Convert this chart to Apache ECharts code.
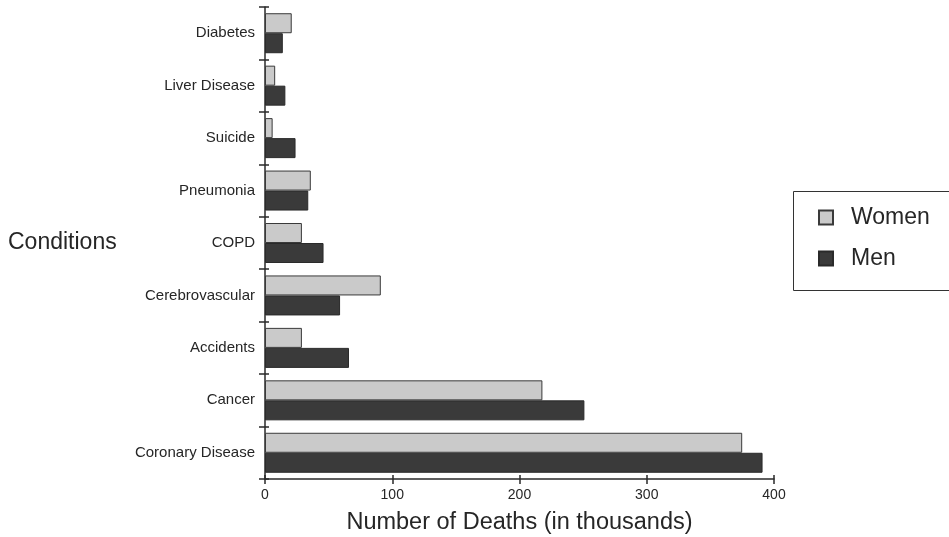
<!DOCTYPE html>
<html>
<head>
<meta charset="utf-8">
<script src="https://cdn.jsdelivr.net/npm/echarts@6/dist/echarts.min.js"></script>
<style>
html,body{margin:0;padding:0;background:#fff;}
#chart{width:949px;height:537px;}
</style>
</head>
<body>
<div id="chart"></div>
<script>
var categories = ['Coronary Disease','Cancer','Accidents','Cerebrovascular','COPD','Pneumonia','Suicide','Liver Disease','Diabetes'];
var women = [375, 218, 29, 91, 29, 36, 6, 8, 21];
var men = [391, 251, 66, 59, 46, 34, 24, 16, 14];
var xTicks = [0, 100, 200, 300, 400];

var chart = echarts.init(document.getElementById('chart'));
var font = 'Liberation Sans, Arial, Helvetica, sans-serif';
var axisColor = '#2a2a2a';
var textColor = '#262626';
var grid = {left: 265, right: 175, top: 7, bottom: 58, containLabel: false, outerBoundsMode: 'none'};

var option = {
  backgroundColor: '#fff',
  animation: false,
  textStyle: {fontFamily: font},
  grid: grid,
  legend: {
    data: ['Women', 'Men'],
    orient: 'vertical',
    left: 813,
    top: 201,
    padding: 5,
    itemWidth: 14,
    itemHeight: 14,
    itemGap: 18,
    icon: 'rect',
    textStyle: {fontSize: 23, color: textColor, fontFamily: font, padding: [0, 0, 0, 13]}
  },
  graphic: [
    {type: 'rect', shape: {x: 793.5, y: 191.5, width: 200, height: 99}, style: {fill: 'none', stroke: '#333', lineWidth: 1}, z: 0},
    {type: 'text', left: 8, top: 231, style: {text: 'Conditions', font: '23px ' + font, fill: textColor}}
  ],
  xAxis: [{
    type: 'value',
    min: 0, max: 400, interval: 100,
    axisLine: {show: true, lineStyle: {color: axisColor, width: 1.5}},
    axisTick: {show: true, length: 5, lineStyle: {color: axisColor, width: 1.5}},
    splitLine: {show: false},
    axisLabel: {fontSize: 14, color: textColor, margin: 9, formatter: function (v) { return xTicks.indexOf(v) >= 0 ? String(v) : ''; }},
    name: 'Number of Deaths (in thousands)',
    nameLocation: 'middle',
    nameGap: 32,
    nameTextStyle: {fontSize: 23.5, color: textColor, fontFamily: font}
  }, {
    type: 'value',
    position: 'bottom',
    min: 0, max: 400, interval: 100,
    axisLine: {show: false},
    axisTick: {show: true, inside: true, length: 4, lineStyle: {color: axisColor, width: 1.5}},
    axisLabel: {show: false},
    splitLine: {show: false}
  }],
  yAxis: [{
    type: 'category',
    data: categories,
    axisLine: {show: true, lineStyle: {color: axisColor, width: 1.5}},
    axisTick: {show: true, length: 6, lineStyle: {color: axisColor, width: 1.5}},
    axisLabel: {fontSize: 15, color: textColor, margin: 10},
    splitLine: {show: false}
  }, {
    type: 'category',
    position: 'left',
    data: categories,
    axisLine: {show: false},
    axisTick: {show: true, inside: true, length: 4, lineStyle: {color: axisColor, width: 1.5}},
    axisLabel: {show: false},
    splitLine: {show: false}
  }],
  series: [{
    name: 'Women',
    type: 'bar',
    data: women,
    barWidth: 20,
    barGap: '0%',
    itemStyle: {color: '#cacaca', borderColor: '#3a3a3a', borderWidth: 1}
  }, {
    name: 'Men',
    type: 'bar',
    data: men,
    barWidth: 20,
    barGap: '0%',
    itemStyle: {color: '#3a3a3a', borderColor: '#2a2a2a', borderWidth: 1}
  }]
};
chart.setOption(option);
</script>
</body>
</html>
